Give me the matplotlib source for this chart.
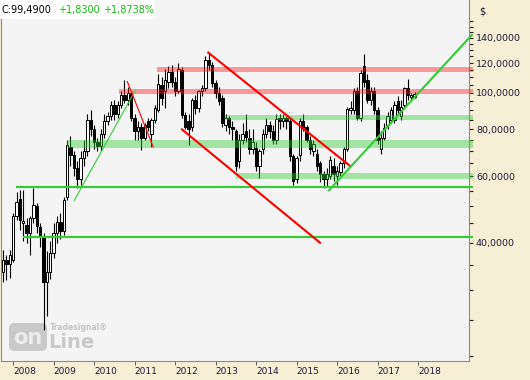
import numpy as np
import matplotlib.pyplot as plt
from matplotlib.patches import Rectangle, FancyBboxPatch
from matplotlib.ticker import NullFormatter

# monthly candles, first one = Oct 2007
start = 2007.75
opens = [33.5, 36.0, 35.2, 36.0, 47.2, 52.4, 45.0, 44.7, 42.5, 46.6, 50.2, 44.0,
         41.5, 31.5, 33.5, 37.5, 42.5, 45.5, 43.0, 53.0, 72.0, 68.5, 63.0, 59.0,
         67.0, 70.0, 84.8, 80.0, 74.0, 72.5, 78.0, 84.0, 87.0, 93.0, 88.0, 93.0,
         99.0, 96.0, 100.0, 86.0, 79.0, 81.0, 76.0, 84.0, 78.0, 85.0, 90.0, 105.0,
         101.0, 107.0, 114.0, 107.0, 101.0, 115.0, 87.5, 84.0, 81.0, 96.0, 91.0, 101.0,
         103.0, 122.0, 119.0, 106.0, 100.0, 97.0, 82.0, 86.0, 81.0, 79.0, 66.0, 75.0,
         79.0, 76.0, 71.0, 71.5, 64.0, 71.0, 78.0, 82.0, 79.0, 75.0, 86.0, 84.0,
         86.0, 84.0, 68.0, 59.0, 68.5, 84.0, 81.0, 75.0, 70.0, 69.0, 65.0, 61.0,
         59.0, 60.0, 64.0, 60.0, 61.5, 65.0, 71.0, 90.0, 90.0, 101.0, 86.0, 118.0,
         108.0, 96.0, 101.0, 90.0, 71.0, 76.0, 82.0, 85.0, 85.0, 95.0, 87.0, 93.0,
         103.0, 97.5, 97.66]
highs = [38.3, 37.2, 38.3, 48.0, 54.5, 55.1, 55.3, 46.4, 47.0, 56.0, 51.0, 45.0,
         42.5, 38.0, 40.5, 45.0, 47.0, 48.0, 53.0, 75.0, 77.0, 70.0, 66.0, 70.0,
         75.0, 88.0, 90.0, 82.0, 76.0, 80.0, 88.0, 89.0, 95.0, 96.0, 95.0, 101.0,
         108.0, 104.0, 101.0, 88.0, 84.0, 83.0, 83.0, 86.0, 86.0, 93.0, 112.0, 110.0,
         116.0, 118.0, 119.0, 110.0, 120.0, 117.0, 89.0, 88.0, 97.0, 99.0, 102.0, 105.0,
         125.0, 128.0, 121.0, 108.0, 104.0, 99.0, 88.0, 87.0, 84.0, 80.0, 78.0, 83.0,
         88.0, 80.0, 80.0, 74.0, 71.0, 80.0, 86.0, 84.0, 82.0, 88.0, 88.0, 88.0,
         87.0, 86.0, 69.0, 68.0, 86.0, 88.0, 82.0, 77.0, 75.0, 71.0, 66.0, 62.0,
         63.0, 68.0, 67.0, 64.0, 66.0, 72.0, 92.0, 95.0, 103.0, 104.0, 115.0, 127.0,
         112.0, 104.0, 104.0, 92.0, 79.0, 83.0, 89.0, 92.0, 95.0, 98.0, 96.0, 104.0,
         109.0, 100.0, 100.5]
lows = [31.5, 31.9, 32.3, 35.5, 46.0, 43.3, 40.5, 40.0, 37.2, 45.0, 42.5, 39.0,
        23.5, 25.5, 32.0, 36.5, 40.0, 41.0, 42.0, 52.0, 64.0, 60.0, 56.0, 57.0,
        64.0, 68.0, 77.0, 71.0, 70.0, 70.0, 76.0, 82.0, 85.0, 85.0, 86.0, 91.0,
        94.0, 93.0, 84.0, 75.0, 75.0, 70.6, 75.0, 79.0, 71.8, 83.0, 89.0, 93.0,
        91.0, 103.0, 104.0, 98.0, 100.0, 86.0, 80.0, 72.8, 79.0, 88.0, 89.0, 98.0,
        101.0, 115.0, 104.0, 97.0, 93.0, 81.0, 79.0, 78.0, 75.0, 62.0, 63.0, 73.0,
        74.0, 69.0, 69.0, 62.0, 59.5, 69.0, 76.0, 76.0, 73.0, 73.0, 80.0, 81.0,
        80.0, 66.0, 57.0, 57.5, 66.0, 79.0, 74.0, 69.0, 68.0, 62.0, 58.0, 56.0,
        56.5, 59.0, 58.5, 57.0, 60.0, 63.0, 70.0, 88.0, 88.0, 85.0, 84.0, 104.0,
        94.0, 93.0, 88.0, 73.0, 68.8, 75.0, 80.0, 83.0, 83.0, 88.0, 85.0, 91.0,
        96.0, 96.0, 97.0]
closes = [36.0, 35.2, 37.2, 47.2, 51.3, 46.0, 45.6, 42.5, 46.6, 50.5, 44.4, 41.5,
          31.5, 33.5, 37.5, 42.5, 45.5, 43.0, 52.0, 72.8, 68.5, 63.0, 59.0, 67.0,
          70.0, 84.8, 80.0, 74.0, 72.5, 78.0, 84.0, 87.0, 93.0, 88.0, 93.0, 99.0,
          96.0, 100.0, 86.0, 79.0, 81.0, 76.0, 82.0, 81.0, 85.0, 91.0, 105.5, 97.0,
          108.0, 114.0, 107.0, 101.0, 116.0, 87.5, 81.0, 80.0, 96.0, 91.0, 101.0, 103.0,
          122.0, 119.0, 106.0, 100.0, 95.0, 83.0, 86.0, 81.0, 80.0, 64.0, 75.0, 78.0,
          76.5, 71.0, 74.0, 64.0, 70.0, 78.0, 82.0, 79.0, 75.0, 85.5, 84.0, 86.0,
          84.0, 68.0, 58.5, 67.0, 84.0, 81.0, 75.0, 71.0, 73.0, 64.0, 61.0, 59.0,
          61.0, 66.5, 61.0, 62.0, 65.0, 71.0, 90.5, 91.0, 101.0, 86.0, 113.0, 107.0,
          96.0, 101.0, 90.0, 75.0, 76.0, 80.5, 87.0, 90.0, 93.0, 90.0, 92.0, 103.0,
          98.5, 99.0, 99.49]

# support / resistance zones: (from, low, high)
red_zones = [(2011.55, 113.7, 117.3), (2010.62, 99.2, 102.3)]
green_zones = [(2013.23, 84.5, 87.5), (2009.33, 71.5, 75.1), (2013.51, 59.2, 61.3)]
green_levels = [(2008.07, 56.1), (2008.25, 41.3)]
# trend lines: (x0, y0, x1, y1)
thin_green = (2009.51, 51.8, 2011.01, 101.3)
thin_red = (2010.82, 107.2, 2011.46, 71.8)
red_upper = (2012.82, 128.0, 2016.32, 64.0)
red_lower = (2012.17, 80.0, 2015.58, 40.0)
green_trend = (2015.80, 55.1, 2019.33, 142.6)
zone_end = 2019.36

yticks = [40, 60, 80, 100, 120, 140]
years = list(range(2008, 2019))

x = start + np.arange(len(closes)) / 12
o, h, l, c = map(np.array, (opens, highs, lows, closes))
up = c >= o

fig = plt.figure(figsize=(5.3, 3.8), dpi=100, facecolor='#f6eed5')
ax = fig.add_axes([1/530, 19/380, 468/530, 361/380])
ax.set_facecolor('#f4f4f4')
ax.set_yscale('log')
ax.set_ylim(19.4, 176.6)
ax.set_xlim(2007.70, 2019.26)

# logo (under the candles)
ax.add_patch(FancyBboxPatch((9/530, 1 - 351/380), 38/530, 28/380,
                            boxstyle='round,pad=0,rounding_size=0.012',
                            transform=fig.transFigure, facecolor='#c9c9c9',
                            edgecolor='none', zorder=0.5))
ax.text(28/530, 1 - 338/380, 'on', transform=fig.transFigure, color='#ececec',
        fontsize=15, fontweight='bold', ha='center', va='center', zorder=0.6)
ax.text(48/530, 1 - 343/380, 'Line', transform=fig.transFigure, color='#c9c9c9',
        fontsize=14, fontweight='bold', ha='left', va='center', zorder=0.6)
ax.text(50/530, 1 - 328/380, 'Tradesignal®', transform=fig.transFigure,
        color='#c4c4c4', fontsize=5.5, fontweight='bold', ha='left', va='center',
        zorder=0.6)

# candles
w = 0.72 / 12
ax.vlines(x, l, h, color='black', linewidth=0.8, zorder=2)
bottom = np.minimum(o, c)
height = np.abs(c - o)
height = np.maximum(height, bottom * 0.006)
ax.bar(x[up], height[up], w, bottom[up], facecolor='white', edgecolor='black',
       linewidth=0.7, zorder=3)
ax.bar(x[~up], height[~up], w, bottom[~up], facecolor='black', edgecolor='black',
       linewidth=0.7, zorder=3)

# zones
for x0, lo, hi in red_zones:
    ax.fill_between([x0, zone_end], lo, hi, color='#ff1a1a', alpha=0.42,
                    linewidth=0, zorder=4, clip_on=False)
for x0, lo, hi in green_zones:
    ax.fill_between([x0, zone_end], lo, hi, color='#33cc33', alpha=0.42,
                    linewidth=0, zorder=4, clip_on=False)
for x0, v in green_levels:
    ax.plot([x0, zone_end], [v, v], color='#33cc33', linewidth=1.5, zorder=5,
            clip_on=False, solid_capstyle='butt')

ax.plot(thin_green[::2], thin_green[1::2], color='#33cc33', linewidth=0.8, zorder=5)
ax.plot(thin_red[::2], thin_red[1::2], color='#ff0000', linewidth=0.8, zorder=5)
ax.plot(red_upper[::2], red_upper[1::2], color='#ff0000', linewidth=1.5, zorder=5)
ax.plot(red_lower[::2], red_lower[1::2], color='#ff0000', linewidth=1.5, zorder=5)
ax.plot(green_trend[::2], green_trend[1::2], color='#33cc33', linewidth=1.5,
        zorder=5, clip_on=False)

# axes styling
for s in ['left', 'bottom', 'right']:
    ax.spines[s].set_color('#8a8a8a')
ax.spines['top'].set_visible(False)
ax.yaxis.tick_right()
ax.set_yticks(yticks)
ax.set_yticklabels([f'{v},0000' for v in yticks])
ax.set_yticks([v for v in range(20, 160, 5) if v not in yticks], minor=True)
ax.yaxis.set_minor_formatter(NullFormatter())
ax.tick_params(axis='y', which='both', length=3, width=0.8, color='#222222',
               labelsize=6.8, pad=2, labelcolor='#1a1a3a')
ax.set_xticks(years)
ax.set_xticklabels([str(yr) for yr in years], ha='left')
ax.tick_params(axis='x', length=3, width=0.6, color='#444444', labelsize=6.5,
               pad=1, labelcolor='#1a1a3a')
ax.xaxis.set_minor_locator(plt.NullLocator())

# header
fig.patches.append(Rectangle((0, 1 - 19/380), 155/530, 19/380,
                             transform=fig.transFigure, facecolor='white',
                             edgecolor='none', zorder=10))
fig.text(2/530, 1 - 10/380, 'C:99,4900', fontsize=7, color='black', va='center',
         zorder=11)
fig.text(58/530, 1 - 10/380, '+1,8300', fontsize=7, color='#11bb11', va='center',
         zorder=11)
fig.text(103/530, 1 - 10/380, '+1,8738%', fontsize=7, color='#11bb11', va='center',
         zorder=11)
fig.text(479/530, 1 - 11/380, '$', fontsize=7, color='#1a1a3a', va='center')

fig.savefig('out.png', dpi=100, facecolor=fig.get_facecolor())
